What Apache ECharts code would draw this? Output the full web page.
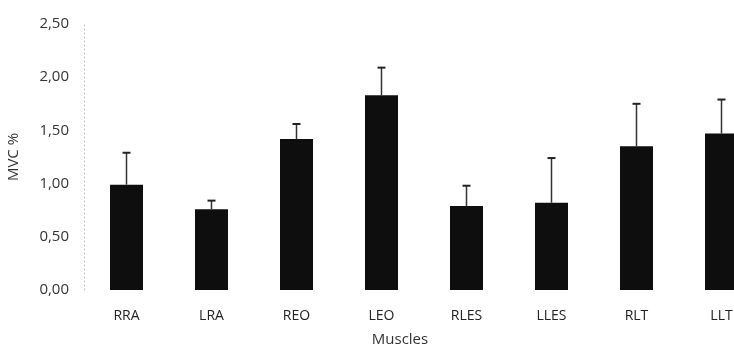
<!DOCTYPE html>
<html>
<head>
<meta charset="utf-8">
<script src="https://cdn.jsdelivr.net/npm/echarts@6/dist/echarts.min.js"></script>
<style>
  html, body { margin: 0; padding: 0; background: #fff; }
  #chart { width: 734px; height: 354px; }
</style>
</head>
<body>
<div id="chart"></div>
<script>
// Mean muscle activation (% of maximum voluntary contraction) and its standard deviation
const muscles = ['RRA', 'LRA', 'REO', 'LEO', 'RLES', 'LLES', 'RLT', 'LLT'];
const meanMVC = [0.99, 0.76, 1.42, 1.83, 0.79, 0.82, 1.35, 1.47];
const sdMVC = [0.30, 0.08, 0.14, 0.26, 0.19, 0.42, 0.40, 0.32];
const yTicks = [0, 0.5, 1.0, 1.5, 2.0, 2.5];

const fmt = v => v.toFixed(2).replace('.', ',');
const font = '"Open Sans", "Noto Sans", sans-serif';

const chart = echarts.init(document.getElementById('chart'), null, { renderer: 'canvas' });

chart.setOption({
  animation: false,
  grid: {
    left: 84, top: 24, width: 680, bottom: 64,
    containLabel: false,
    outerBoundsMode: 'none'
  },
  xAxis: {
    type: 'category',
    data: muscles,
    name: 'Muscles',
    nameLocation: 'middle',
    nameGap: 42,
    // right padding nudges the title left of the plot-area centre
    nameTextStyle: { fontFamily: font, fontSize: 15, color: '#333', padding: [0, 48, 0, 0] },
    axisLine: { show: false },
    axisTick: { show: false },
    axisLabel: { fontFamily: font, fontSize: 14, color: '#222', margin: 19 }
  },
  yAxis: {
    type: 'value',
    min: yTicks[0],
    max: yTicks[yTicks.length - 1],
    interval: 0.5,
    name: 'MVC %',
    nameLocation: 'middle',
    nameGap: 63,
    nameRotate: 90,
    nameTextStyle: { fontFamily: font, fontSize: 15, color: '#333' },
    axisLine: { show: true, lineStyle: { color: '#bbb', type: [1, 3], width: 1 } },
    axisTick: { show: false },
    splitLine: { show: false },
    axisLabel: { fontFamily: font, fontSize: 15, color: '#333', margin: 15, formatter: fmt }
  },
  series: [
    {
      type: 'bar',
      data: meanMVC,
      barWidth: 33,
      itemStyle: { color: '#0e0e0e' },
      z: 2
    },
    {
      // upward error whiskers with a short cap
      type: 'custom',
      data: meanMVC.map((m, i) => [i, m, m + sdMVC[i]]),
      z: 3,
      renderItem: function (params, api) {
        const i = api.value(0);
        const base = api.coord([i, api.value(1)]);
        const top = api.coord([i, api.value(2)]);
        const cap = 4;
        return {
          type: 'group',
          children: [
            { type: 'line', shape: { x1: base[0], y1: base[1], x2: top[0], y2: top[1] }, style: { stroke: '#333', lineWidth: 1.5 } },
            { type: 'line', shape: { x1: top[0] - cap, y1: top[1], x2: top[0] + cap, y2: top[1] }, style: { stroke: '#222', lineWidth: 2 } }
          ]
        };
      }
    }
  ]
});
</script>
</body>
</html>
